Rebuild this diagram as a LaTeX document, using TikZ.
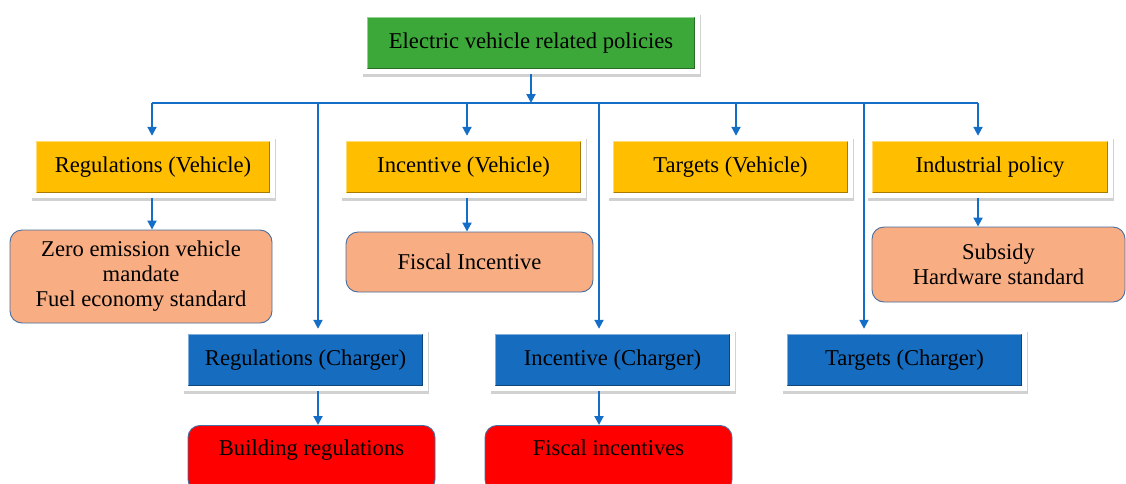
\documentclass[tikz,border=0pt]{standalone}
\usepackage{fontspec}
\setmainfont{Liberation Serif}
\usetikzlibrary{shadows,arrows.meta}
\definecolor{evgreen}{RGB}{61,168,58}
\definecolor{evgold}{RGB}{255,190,0}
\definecolor{evblue}{RGB}{22,108,190}
\definecolor{evsalmon}{RGB}{248,173,131}
\definecolor{evred}{RGB}{255,0,0}
\definecolor{evline}{RGB}{20,110,200}
\definecolor{evedge}{RGB}{70,110,160}
\newcommand\evtext{\fontsize{22.6}{25}\selectfont}
\tikzset{
  x=1pt, y=1pt,
  base/.style={font=\evtext, text=black, align=center},
  framebox/.style={base, fill=white, inner sep=0pt, minimum height=62pt,
    drop shadow={shadow xshift=1.2pt, shadow yshift=-2.5pt, opacity=.18, fill=black},
    path picture={
      \fill[#1] ([shift={(5pt,-5pt)}]path picture bounding box.north west) rectangle ([shift={(-5pt,5pt)}]path picture bounding box.south east);
      \draw[#1!65!black, line width=1.4pt] ([shift={(5.7pt,5.7pt)}]path picture bounding box.south west) -- ([shift={(-5.7pt,5.7pt)}]path picture bounding box.south east) -- ([shift={(-5.7pt,-5.7pt)}]path picture bounding box.north east);
      \draw[#1!55!white, line width=1.2pt] ([shift={(5.6pt,5.6pt)}]path picture bounding box.south west) -- ([shift={(5.6pt,-5.6pt)}]path picture bounding box.north west) -- ([shift={(-5.6pt,-5.6pt)}]path picture bounding box.north east);
    }},
  roundbox/.style={base, rounded corners=12pt, draw=evedge, line width=0.9pt, fill=#1, inner sep=0pt},
  conn/.style={draw=evline, line width=2pt},
  arr/.style={conn, -{Triangle[length=9pt,width=9pt]}},
}
\begin{document}
\begin{tikzpicture}
\useasboundingbox (0,0) rectangle (1126,-483);
% top
\node[framebox=evgreen, minimum width=338pt] (top) at (531,-43) {Electric vehicle related policies};
\coordinate (bus) at (0,-103);
% vehicle row
\node[framebox=evgold, minimum width=244pt] (rv) at (153,-167) {Regulations (Vehicle)};
\node[framebox=evgold, minimum width=245pt] (iv) at (463.5,-167) {Incentive (Vehicle)};
\node[framebox=evgold, minimum width=245pt] (tv) at (730.5,-167) {Targets (Vehicle)};
\node[framebox=evgold, minimum width=246pt] (ip) at (990,-167) {Industrial policy};
% salmon
\node[roundbox=evsalmon, minimum width=262pt, minimum height=93pt] (zev) at (141,-276.5) {Zero emission vehicle\\mandate\\Fuel economy standard};
\node[roundbox=evsalmon, minimum width=247pt, minimum height=60pt] (fi) at (469.5,-262) {Fiscal Incentive};
\node[roundbox=evsalmon, minimum width=253pt, minimum height=75pt] (sub) at (998.5,-264.5) {Subsidy\\Hardware standard};
% charger row
\node[framebox=evblue, minimum width=245pt] (rc) at (305.5,-360) {Regulations (Charger)};
\node[framebox=evblue, minimum width=245pt] (ic) at (612.5,-360) {Incentive (Charger)};
\node[framebox=evblue, minimum width=245pt] (tc) at (904.5,-360) {Targets (Charger)};
% red
\node[roundbox=evred, anchor=north, minimum width=247pt, minimum height=66pt, text height=15pt, text depth=21pt] (br) at (311.5,-425) {Building regulations};
\node[roundbox=evred, anchor=north, minimum width=247pt, minimum height=66pt, text height=15pt, text depth=21pt] (fci) at (608.5,-425) {Fiscal incentives};
% connectors
\draw[arr] (top.south) -- (top.south |- bus);
\draw[conn] ([xshift=-1pt]rv.north |- bus) -- ([xshift=-12pt]ip.north |- bus);
\draw[arr] ([xshift=-1pt]rv.north |- bus) -- ([xshift=-1pt]rv.north);
\draw[arr] ([xshift=3.5pt]iv.north |- bus) -- ([xshift=3.5pt]iv.north);
\draw[arr] ([xshift=5.5pt]tv.north |- bus) -- ([xshift=5.5pt]tv.north);
\draw[arr] ([xshift=-12pt]ip.north |- bus) -- ([xshift=-12pt]ip.north);
\draw[arr] ([xshift=12.5pt]rc.north |- bus) -- ([xshift=12.5pt]rc.north);
\draw[arr] ([xshift=-13.5pt]ic.north |- bus) -- ([xshift=-13.5pt]ic.north);
\draw[arr] ([xshift=-40.5pt]tc.north |- bus) -- ([xshift=-40.5pt]tc.north);
\draw[arr] ([xshift=-1pt]rv.south) -- ([xshift=-1pt]rv.south |- zev.north);
\draw[arr] ([xshift=3.5pt]iv.south) -- ([xshift=3.5pt]iv.south |- fi.north);
\draw[arr] ([xshift=-12pt]ip.south) -- ([xshift=-12pt]ip.south |- sub.north);
\draw[arr] ([xshift=12.5pt]rc.south) -- ([xshift=12.5pt]rc.south |- br.north);
\draw[arr] ([xshift=-13.5pt]ic.south) -- ([xshift=-13.5pt]ic.south |- fci.north);
\end{tikzpicture}
\end{document}
